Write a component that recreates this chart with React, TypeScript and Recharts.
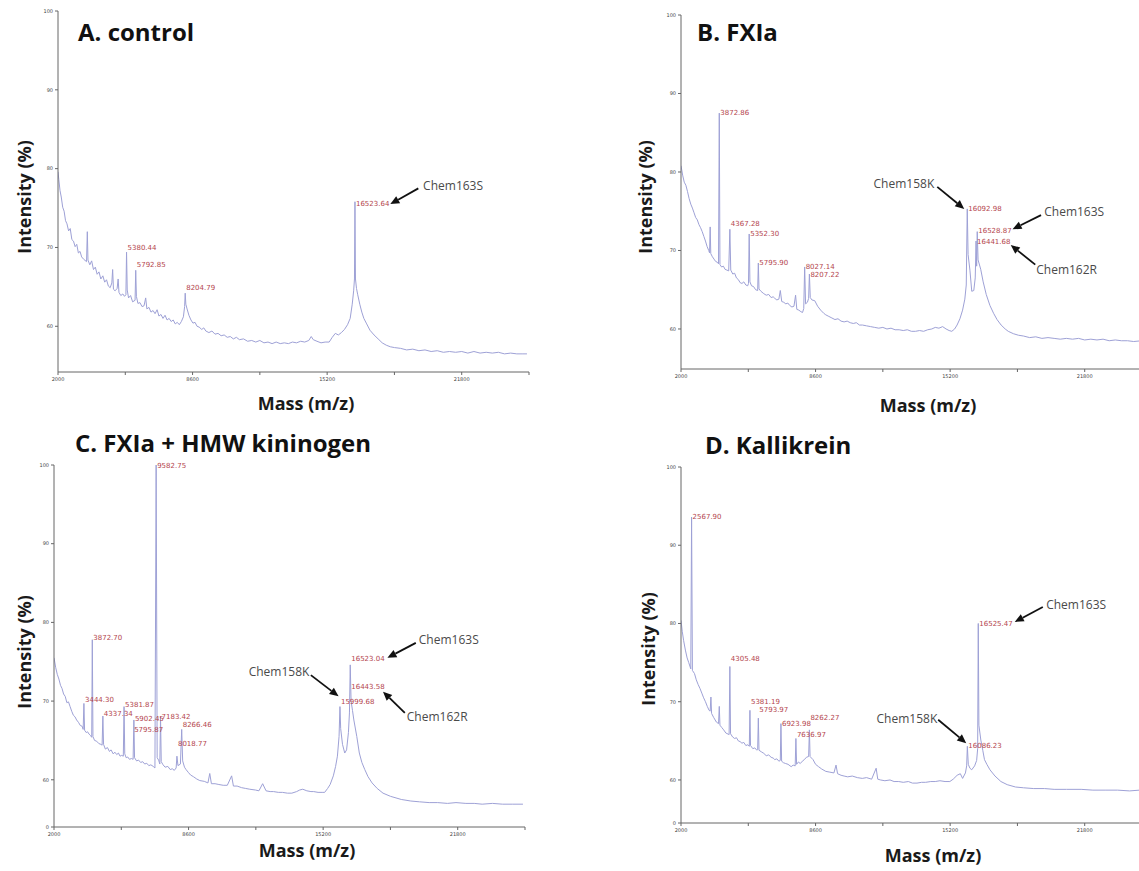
import React from "react";
import { LineChart, Line, XAxis, YAxis, ReferenceDot, ReferenceLine } from "recharts";

type Point = [number, number];
type Peak = [number, number, string];
type Note = { text: string; at: Point; anchor: "start" | "end"; from: Point; to: Point };

// axis ticks shared by all four spectra
const massTicks = [2000, 5300, 8600, 11900, 15200, 18500, 21800, 25100];
const majorMassTicks = [2000, 8600, 15200, 21800];
const intensityTicks = [60, 70, 80, 90, 100];

// A. control  [mass, intensity %]
const spectrumA: Point[] = [
  [2000, 79.6], [2040, 78.6], [2100, 77.2], [2160, 76.4], [2230, 75.1], [2300, 74.6], [2370, 73.4],
  [2440, 73.0], [2520, 72.1], [2600, 72.4], [2680, 71.0], [2760, 70.8], [2840, 70.1], [2920, 70.4],
  [3000, 69.3], [3080, 69.5], [3160, 68.8], [3260, 68.5], [3400, 68.2], [3438, 72.0], [3470, 68.4],
  [3560, 67.8], [3650, 68.3], [3740, 67.2], [3830, 67.5], [3920, 66.6], [4010, 66.9], [4100, 66.0],
  [4200, 66.4], [4290, 65.6], [4380, 65.9], [4470, 65.1], [4560, 64.9], [4640, 65.5], [4680, 67.2],
  [4720, 64.7], [4800, 64.5], [4900, 64.8], [4950, 66.0], [4990, 64.3], [5080, 63.9], [5180, 64.1],
  [5260, 63.8], [5330, 64.0], [5362, 69.4], [5395, 64.6], [5460, 63.6], [5560, 63.9], [5660, 63.1],
  [5780, 63.3], [5812, 67.1], [5845, 63.8], [5920, 62.9], [6020, 63.0], [6120, 62.5], [6220, 62.6],
  [6300, 63.6], [6360, 62.2], [6460, 62.4], [6560, 61.8], [6660, 62.0], [6760, 61.6], [6860, 62.1],
  [6950, 61.3], [7050, 61.5], [7150, 61.0], [7250, 61.4], [7350, 60.8], [7450, 61.0], [7550, 60.6],
  [7650, 60.8], [7750, 60.3], [7850, 60.5], [7950, 60.2], [8050, 60.6], [8150, 61.2], [8210, 62.5],
  [8239, 64.2], [8270, 62.8], [8330, 62.2], [8420, 61.4], [8520, 60.8], [8620, 60.4], [8720, 60.5],
  [8820, 60.0], [8920, 59.9], [9050, 59.6], [9150, 59.8], [9250, 59.4], [9400, 59.2], [9550, 59.4],
  [9700, 59.0], [9850, 59.1], [10000, 58.8], [10150, 58.9], [10300, 58.6], [10450, 58.7], [10600, 58.4],
  [10750, 58.6], [10900, 58.3], [11100, 58.4], [11300, 58.1], [11500, 58.2], [11700, 58.0], [11900, 58.2],
  [12100, 57.9], [12300, 58.0], [12500, 57.8], [12700, 58.0], [12900, 57.8], [13100, 57.9], [13300, 57.8],
  [13500, 58.0], [13700, 57.9], [13900, 58.1], [14100, 58.0], [14300, 58.2], [14420, 58.7], [14520, 58.3],
  [14700, 58.1], [14900, 57.9], [15100, 58.0], [15300, 58.0], [15450, 58.6], [15600, 59.1], [15750, 58.9],
  [15900, 59.2], [16050, 59.6], [16200, 60.2], [16330, 61.0], [16430, 62.8], [16500, 64.5], [16540, 66.0],
  [16564, 75.8], [16590, 66.0], [16640, 64.8], [16700, 64.0], [16800, 62.8], [16900, 61.8], [17000, 61.0],
  [17140, 60.3], [17300, 59.5], [17500, 58.9], [17700, 58.4], [17900, 57.9], [18100, 57.6], [18300, 57.4],
  [18500, 57.3], [18800, 57.2], [19100, 57.0], [19400, 57.1], [19700, 56.9], [20000, 57.0], [20300, 56.8],
  [20600, 56.9], [20900, 56.7], [21200, 56.8], [21500, 56.7], [21800, 56.8], [22100, 56.6], [22400, 56.8],
  [22700, 56.6], [23000, 56.7], [23300, 56.6], [23600, 56.7], [23900, 56.5], [24200, 56.6], [24500, 56.5],
  [24800, 56.5], [25000, 56.5],
];
const peaksA: Peak[] = [
  [5362, 69.9, "5380.44"], [5812, 67.8, "5792.85"], [8239, 64.9, "8204.79"], [16564, 75.5, "16523.64"],
];
const notesA: Note[] = [
  { text: "Chem163S", at: [19907, 77.9], anchor: "start", from: [19672, 77.5], to: [18299, 75.5] },
];

// B. FXIa
const spectrumB: Point[] = [
  [2000, 80.8], [2080, 79.6], [2160, 78.7], [2240, 78.3], [2320, 77.5], [2400, 76.6], [2480, 75.9],
  [2560, 75.4], [2640, 74.8], [2720, 74.2], [2800, 73.9], [2880, 73.3], [2960, 72.9], [3040, 72.4],
  [3120, 71.8], [3200, 71.2], [3280, 70.5], [3360, 70.0], [3400, 69.7], [3431, 73.0], [3460, 69.6],
  [3540, 69.2], [3620, 68.9], [3700, 68.6], [3780, 68.5], [3840, 68.3], [3878, 87.5], [3910, 68.2],
  [3990, 67.9], [4080, 68.0], [4160, 67.6], [4250, 67.5], [4340, 67.4], [4397, 72.7], [4440, 67.5],
  [4540, 67.0], [4630, 67.1], [4720, 66.5], [4810, 66.3], [4900, 65.9], [4990, 65.8], [5080, 66.0],
  [5180, 65.6], [5270, 65.5], [5310, 65.8], [5345, 72.1], [5380, 66.0], [5460, 65.5], [5560, 65.4],
  [5660, 65.0], [5760, 64.9], [5793, 68.4], [5825, 65.1], [5920, 64.8], [6060, 64.5], [6180, 64.3],
  [6300, 64.4], [6420, 64.0], [6520, 64.1], [6600, 63.9], [6700, 63.7], [6800, 63.8], [6870, 64.9],
  [6940, 63.5], [7040, 63.4], [7140, 63.2], [7240, 63.3], [7330, 63.0], [7440, 62.8], [7540, 62.9],
  [7620, 64.3], [7680, 62.5], [7780, 62.4], [7880, 62.2], [7960, 62.1], [8020, 62.6], [8065, 67.9],
  [8110, 63.2], [8200, 63.4], [8260, 63.9], [8297, 67.0], [8340, 64.0], [8420, 63.7], [8560, 63.6],
  [8700, 62.9], [8850, 62.4], [9000, 62.0], [9100, 61.8], [9250, 61.6], [9400, 61.4], [9550, 61.2],
  [9700, 61.3], [9850, 61.0], [10000, 60.9], [10150, 61.0], [10300, 60.8], [10450, 60.7], [10600, 60.8],
  [10750, 60.5], [10900, 60.5], [11100, 60.4], [11300, 60.3], [11500, 60.2], [11700, 60.1], [11900, 60.2],
  [12100, 60.0], [12300, 60.1], [12500, 59.9], [12700, 59.9], [12900, 59.8], [13100, 59.9], [13300, 59.7],
  [13500, 59.7], [13700, 59.8], [13900, 59.7], [14100, 59.9], [14300, 60.0], [14470, 60.2], [14650, 60.1],
  [14830, 60.3], [15000, 60.0], [15150, 59.8], [15280, 59.7], [15420, 60.0], [15540, 60.5], [15680, 61.3],
  [15810, 62.4], [15920, 63.8], [15990, 65.6], [16039, 75.3], [16080, 69.5], [16170, 67.5], [16260, 64.8],
  [16360, 64.9], [16430, 66.5], [16471, 71.2], [16500, 68.0], [16529, 72.4], [16570, 68.8], [16700, 67.6],
  [16820, 66.0], [16970, 64.4], [17150, 63.0], [17330, 62.0], [17500, 61.2], [17700, 60.5], [17900, 60.0],
  [18050, 59.7], [18300, 59.4], [18550, 59.2], [18800, 59.1], [19100, 58.9], [19400, 59.0], [19700, 58.8],
  [20000, 58.9], [20300, 58.8], [20600, 58.7], [20900, 58.8], [21200, 58.7], [21500, 58.8], [21800, 58.6],
  [22100, 58.7], [22400, 58.6], [22700, 58.7], [23000, 58.5], [23300, 58.6], [23600, 58.5], [23900, 58.5],
  [24200, 58.4], [24600, 58.5], [25000, 58.4],
];
const peaksB: Peak[] = [
  [3878, 87.5, "3872.86"], [4397, 73.4, "4367.28"], [5345, 72.1, "5352.30"], [5793, 68.4, "5795.90"],
  [8065, 67.9, "8027.14"], [8297, 66.9, "8207.22"], [16039, 75.3, "16092.98"], [16529, 72.5, "16528.87"],
  [16471, 71.1, "16441.68"],
];
const notesB: Note[] = [
  { text: "Chem158K", at: [14422, 78.5], anchor: "end", from: [14569, 78.1], to: [15892, 75.3] },
  { text: "Chem163S", at: [19814, 75.0], anchor: "start", from: [19657, 74.5], to: [18260, 72.7] },
  { text: "Chem162R", at: [19422, 67.6], anchor: "start", from: [19373, 68.2], to: [18172, 70.7] },
];

// C. FXIa + HMW kininogen
const spectrumC: Point[] = [
  [2000, 75.5], [2080, 74.3], [2160, 73.4], [2240, 72.8], [2320, 72.0], [2394, 71.6], [2470, 70.9],
  [2550, 70.6], [2630, 69.8], [2710, 69.9], [2790, 69.3], [2870, 68.7], [2950, 68.2], [3030, 68.0],
  [3109, 67.6], [3200, 67.3], [3290, 66.9], [3380, 66.8], [3430, 66.4], [3467, 69.7], [3500, 66.3],
  [3580, 66.0], [3646, 66.1], [3720, 65.8], [3800, 65.6], [3850, 65.4], [3879, 77.8], [3910, 65.5],
  [3990, 65.0], [4093, 64.9], [4200, 64.6], [4300, 64.5], [4360, 64.4], [4397, 68.1], [4430, 64.5],
  [4520, 63.9], [4620, 64.1], [4719, 63.6], [4800, 63.8], [4900, 63.3], [4990, 63.5], [5077, 63.2],
  [5160, 63.4], [5240, 63.0], [5320, 63.1], [5400, 63.0], [5436, 69.3], [5470, 63.3], [5540, 62.8],
  [5614, 62.9], [5700, 62.6], [5800, 62.7], [5880, 62.6], [5918, 67.6], [5950, 62.8], [6050, 62.4],
  [6150, 62.5], [6250, 62.2], [6350, 62.3], [6450, 62.0], [6550, 62.1], [6650, 61.8], [6750, 61.9],
  [6866, 61.7], [6950, 61.5], [7010, 100.0], [7060, 62.8], [7130, 62.5], [7190, 62.0], [7225, 68.0],
  [7260, 62.3], [7350, 61.9], [7450, 61.6], [7582, 61.7], [7700, 61.3], [7800, 61.4], [7900, 61.2],
  [7990, 61.5], [8029, 63.0], [8080, 61.8], [8200, 62.0], [8263, 66.4], [8310, 62.4], [8400, 61.6],
  [8476, 61.3], [8600, 60.9], [8700, 60.6], [8834, 60.4], [9000, 60.1], [9150, 59.9], [9371, 59.8],
  [9550, 59.6], [9639, 60.8], [9720, 59.5], [9900, 59.5], [10086, 59.4], [10300, 59.3], [10500, 59.3],
  [10712, 60.5], [10800, 59.2], [10981, 59.2], [11200, 59.0], [11400, 58.9], [11600, 58.8], [11875, 58.7],
  [12050, 58.6], [12233, 59.5], [12400, 58.6], [12600, 58.5], [12770, 58.5], [13000, 58.4], [13200, 58.4],
  [13450, 58.3], [13664, 58.3], [13900, 58.5], [14050, 58.7], [14201, 58.8], [14400, 58.6], [14600, 58.5],
  [14738, 58.5], [14950, 58.4], [15150, 58.4], [15274, 58.4], [15420, 58.9], [15543, 59.4], [15700, 60.5],
  [15811, 61.7], [15900, 63.0], [15980, 65.5], [16025, 69.3], [16060, 66.5], [16150, 64.5], [16259, 63.4],
  [16350, 63.8], [16440, 66.0], [16490, 68.5], [16529, 74.6], [16570, 70.0], [16640, 68.8], [16706, 67.6],
  [16850, 65.5], [16974, 63.4], [17100, 62.2], [17242, 61.3], [17400, 60.4], [17600, 59.6], [17850, 58.9],
  [18137, 58.3], [18500, 57.9], [19031, 57.5], [19500, 57.3], [19926, 57.2], [20400, 57.1], [20820, 57.1],
  [21300, 57.0], [21715, 57.1], [22200, 57.0], [22609, 57.0], [23000, 56.9], [23504, 57.0], [24000, 56.9],
  [24500, 56.9], [25000, 56.9],
];
const peaksC: Peak[] = [
  [7010, 99.9, "9582.75"], [3879, 78.0, "3872.70"], [3471, 70.2, "3444.30"], [4397, 68.3, "4337.34"],
  [5436, 69.5, "5381.87"], [5918, 67.7, "5902.45"], [5882, 66.3, "5795.87"], [7225, 68.0, "7183.42"],
  [8263, 66.9, "8266.46"], [8029, 64.6, "8018.77"], [16529, 75.4, "16523.04"], [16529, 71.8, "16443.58"],
  [16025, 69.9, "15999.68"],
];
const notesC: Note[] = [
  { text: "Chem163S", at: [19892, 77.8], anchor: "start", from: [19745, 77.4], to: [18353, 75.5] },
  { text: "Chem158K", at: [14525, 73.7], anchor: "end", from: [14598, 73.3], to: [15956, 70.6] },
  { text: "Chem162R", at: [19304, 68.1], anchor: "start", from: [19206, 68.5], to: [18137, 71.2] },
];

// D. Kallikrein
const spectrumD: Point[] = [
  [2000, 80.4], [2060, 79.0], [2130, 77.8], [2215, 76.6], [2300, 75.6], [2380, 75.0], [2480, 74.2],
  [2519, 93.6], [2560, 74.0], [2662, 73.6], [2750, 72.8], [2840, 72.2], [2930, 71.7], [3020, 71.1],
  [3110, 70.5], [3200, 70.0], [3290, 69.4], [3378, 68.9], [3430, 68.8], [3467, 70.6], [3500, 68.5],
  [3600, 68.0], [3735, 67.4], [3840, 67.2], [3878, 69.4], [3910, 67.0], [4000, 66.7], [4093, 66.4],
  [4200, 66.0], [4360, 65.8], [4397, 74.5], [4430, 65.9], [4530, 65.5], [4630, 65.3], [4720, 65.4],
  [4810, 65.0], [4900, 64.9], [4988, 64.7], [5080, 64.8], [5180, 64.4], [5280, 64.5], [5350, 64.3],
  [5381, 68.9], [5410, 64.4], [5524, 64.0], [5620, 64.1], [5720, 63.8], [5760, 63.9], [5793, 67.9],
  [5825, 63.8], [5940, 63.6], [6061, 63.4], [6180, 63.1], [6300, 63.2], [6420, 62.9], [6520, 62.8],
  [6598, 62.6], [6700, 62.7], [6800, 62.4], [6870, 62.5], [6902, 67.2], [6935, 62.4], [7030, 62.2],
  [7134, 62.1], [7250, 62.0], [7403, 61.7], [7500, 61.9], [7600, 61.8], [7635, 65.3], [7670, 62.0],
  [7760, 62.3], [7850, 62.1], [7950, 62.4], [8050, 62.6], [8150, 62.9], [8260, 63.0], [8297, 66.4],
  [8330, 63.0], [8400, 62.8], [8476, 62.6], [8600, 62.0], [8745, 61.7], [8900, 61.4], [9102, 61.1],
  [9300, 61.0], [9500, 60.9], [9603, 61.9], [9680, 60.8], [9850, 60.6], [10000, 60.5], [10176, 60.4],
  [10400, 60.5], [10650, 60.3], [10891, 60.2], [11100, 60.3], [11350, 60.1], [11571, 61.5], [11650, 60.1],
  [11786, 60.0], [12000, 59.9], [12250, 60.0], [12450, 59.8], [12680, 59.8], [12900, 59.7], [13150, 59.8],
  [13350, 59.6], [13575, 59.6], [13800, 59.7], [14000, 59.7], [14250, 59.8], [14469, 59.8], [14700, 59.9],
  [14950, 59.8], [15185, 59.8], [15350, 60.1], [15543, 60.6], [15700, 60.8], [15811, 60.2], [15950, 60.9],
  [16010, 61.8], [16044, 64.3], [16090, 62.0], [16170, 61.5], [16258, 61.3], [16400, 61.8], [16500, 62.5],
  [16550, 64.0], [16580, 80.0], [16610, 67.0], [16705, 65.1], [16800, 63.8], [16884, 62.6], [17000, 62.0],
  [17153, 61.3], [17400, 60.5], [17690, 59.8], [18000, 59.4], [18405, 59.1], [18800, 59.0], [19300, 58.9],
  [19836, 58.9], [20300, 58.8], [20900, 58.8], [21625, 58.8], [22200, 58.7], [22800, 58.7], [23414, 58.7],
  [24000, 58.6], [24487, 58.7], [25000, 58.6],
];
const peaksD: Peak[] = [
  [2519, 93.6, "2567.90"], [4397, 75.5, "4305.48"], [5381, 70.0, "5381.19"], [5793, 68.9, "5793.97"],
  [6902, 67.1, "6923.98"], [7635, 65.7, "7636.97"], [8297, 67.9, "8262.27"], [16044, 64.3, "16086.23"],
  [16580, 79.9, "16525.47"],
];
const notesD: Note[] = [
  { text: "Chem163S", at: [19912, 82.4], anchor: "start", from: [19745, 82.1], to: [18368, 80.2] },
  { text: "Chem158K", at: [14569, 67.9], anchor: "end", from: [14613, 67.7], to: [15990, 64.7] },
];

const TRACE = "#9ea1d6";
const PEAK_RED = "#b4464e";
const AXIS = "#666";

const Arrow = (props: any) => {
  const { x1, y1, x2, y2 } = props;
  const ang = Math.atan2(y2 - y1, x2 - x1);
  const len = 9;
  const half = 4;
  const bx = x2 - len * Math.cos(ang);
  const by = y2 - len * Math.sin(ang);
  const px = -Math.sin(ang) * half;
  const py = Math.cos(ang) * half;
  return (
    <g>
      <line x1={x1} y1={y1} x2={bx} y2={by} stroke="#111" strokeWidth={1.8} />
      <polygon points={`${x2},${y2} ${bx + px},${by + py} ${bx - px},${by - py}`} fill="#111" />
    </g>
  );
};

type Layout = {
  left: number; top: number; width: number; height: number;
  margin: { top: number; right: number; bottom: number; left: number };
  yAxisWidth: number; yMin: number; zeroLabel: boolean;
  title: string; titleAt: Point; yLabelAt: Point; xLabelAt: Point;
};

function Panel({ layout, spectrum, peaks, notes }: { layout: Layout; spectrum: Point[]; peaks: Peak[]; notes: Note[] }) {
  const rows = spectrum.map(([mass, intensity]) => ({ mass, intensity }));
  const yTicks = layout.zeroLabel ? [layout.yMin, ...intensityTicks] : intensityTicks;
  return (
    <>
      <div style={{ position: "absolute", left: layout.left, top: layout.top }}>
        <LineChart width={layout.width} height={layout.height} data={rows} margin={layout.margin}>
          <XAxis
            dataKey="mass"
            type="number"
            domain={[2000, 25100]}
            allowDataOverflow
            ticks={massTicks}
            interval={0}
            tickFormatter={(v: number) => (majorMassTicks.includes(v) ? String(v) : "")}
            tick={{ fontSize: 5, fill: "#444", fontFamily: "DejaVu Sans" }}
            tickSize={3}
            axisLine={{ stroke: AXIS }}
            tickLine={{ stroke: AXIS }}
            height={16}
          />
          <YAxis
            type="number"
            domain={[layout.yMin, 100]}
            allowDataOverflow
            ticks={yTicks}
            interval={0}
            tickFormatter={(v: number) => (v < 60 ? "0" : String(v))}
            tick={{ fontSize: 5, fill: "#444", fontFamily: "DejaVu Sans" }}
            tickSize={3}
            axisLine={{ stroke: AXIS }}
            tickLine={{ stroke: AXIS }}
            width={layout.yAxisWidth}
          />
          <Line
            type="linear"
            dataKey="intensity"
            stroke={TRACE}
            strokeWidth={1}
            dot={false}
            isAnimationActive={false}
          />
          {peaks.map(([m, i, label], k) => (
            <ReferenceDot
              key={`p${k}`}
              x={m}
              y={i}
              r={1}
              ifOverflow="visible"
              shape={(p: any) => (
                <text x={p.cx + 1} y={p.cy} dominantBaseline="central" fontSize={7}
                  fontFamily="DejaVu Sans" fill={PEAK_RED}>{label}</text>
              )}
            />
          ))}
          {notes.map((n, k) => (
            <ReferenceLine
              key={`a${k}`}
              segment={[{ x: n.from[0], y: n.from[1] }, { x: n.to[0], y: n.to[1] }]}
              ifOverflow="visible"
              shape={Arrow}
            />
          ))}
          {notes.map((n, k) => (
            <ReferenceDot
              key={`n${k}`}
              x={n.at[0]}
              y={n.at[1]}
              r={1}
              ifOverflow="visible"
              shape={(p: any) => (
                <text x={p.cx} y={p.cy} textAnchor={n.anchor} dominantBaseline="central" fontSize={12}
                  fontFamily="'Open Sans'" fill="#4a4a4a">{n.text}</text>
              )}
            />
          ))}
        </LineChart>
      </div>
      <div style={{
        position: "absolute", left: layout.titleAt[0], top: layout.titleAt[1], transform: "translateY(-50%)",
        fontFamily: "'Open Sans'", fontWeight: 700, fontSize: 24, color: "#111", whiteSpace: "nowrap", lineHeight: 1,
      }}>{layout.title}</div>
      <div style={{
        position: "absolute", left: layout.yLabelAt[0], top: layout.yLabelAt[1],
        transform: "translate(-50%, -50%) rotate(-90deg)",
        fontFamily: "'Open Sans'", fontWeight: 700, fontSize: 18, color: "#1a1a1a", whiteSpace: "nowrap", lineHeight: 1,
      }}>Intensity (%)</div>
      <div style={{
        position: "absolute", left: layout.xLabelAt[0], top: layout.xLabelAt[1],
        transform: "translate(-50%, -50%)",
        fontFamily: "'Open Sans'", fontWeight: 700, fontSize: 18, color: "#1a1a1a", whiteSpace: "nowrap", lineHeight: 1,
      }}>Mass (m/z)</div>
    </>
  );
}

const layoutA: Layout = {
  left: 0, top: 0, width: 560, height: 400, margin: { top: 11, right: 31, bottom: 12, left: 0 },
  yAxisWidth: 58, yMin: 54.2, zeroLabel: false,
  title: "A. control", titleAt: [78, 32], yLabelAt: [24, 197], xLabelAt: [306, 403],
};
const layoutB: Layout = {
  left: 570, top: 0, width: 592, height: 400, margin: { top: 15, right: 10, bottom: 15, left: 53 },
  yAxisWidth: 58, yMin: 54.9, zeroLabel: false,
  title: "B. FXIa", titleAt: [697, 32], yLabelAt: [645, 197], xLabelAt: [928, 405],
};
const layoutC: Layout = {
  left: 0, top: 420, width: 560, height: 430, margin: { top: 45, right: 35, bottom: 7, left: 0 },
  yAxisWidth: 54, yMin: 54, zeroLabel: true,
  title: "C. FXIa + HMW kininogen", titleAt: [75, 443], yLabelAt: [24, 652], xLabelAt: [307, 850],
};
const layoutD: Layout = {
  left: 570, top: 420, width: 592, height: 430, margin: { top: 47, right: 10, bottom: 11, left: 53 },
  yAxisWidth: 58, yMin: 54.5, zeroLabel: true,
  title: "D. Kallikrein", titleAt: [705, 445], yLabelAt: [648, 649], xLabelAt: [933, 855],
};

export default function App() {
  return (
    <div style={{
      position: "absolute", left: 0, top: 0, width: 1139, height: 871, overflow: "hidden", background: "#fff",
    }}>
      <Panel layout={layoutA} spectrum={spectrumA} peaks={peaksA} notes={notesA} />
      <Panel layout={layoutB} spectrum={spectrumB} peaks={peaksB} notes={notesB} />
      <Panel layout={layoutC} spectrum={spectrumC} peaks={peaksC} notes={notesC} />
      <Panel layout={layoutD} spectrum={spectrumD} peaks={peaksD} notes={notesD} />
    </div>
  );
}
